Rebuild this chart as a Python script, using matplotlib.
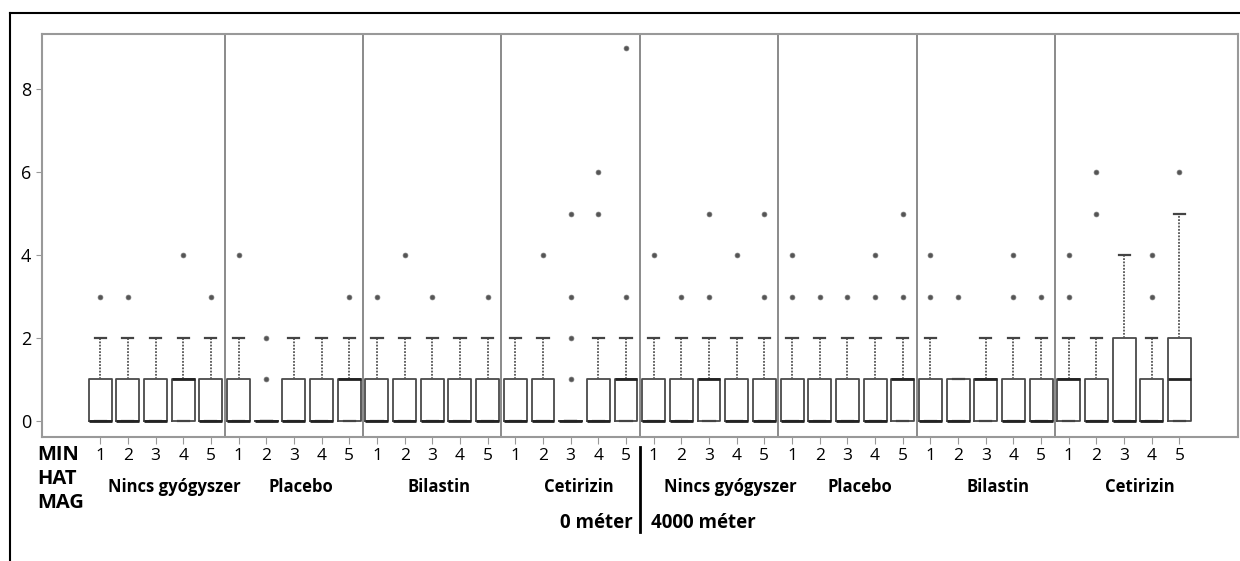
import numpy as np
import matplotlib.pyplot as plt
from matplotlib.lines import Line2D

plt.rcParams['font.family'] = ['Open Sans', 'DejaVu Sans']

# groups (treatment x altitude), 5 MIN subgroups each
groups = ["Nincs gyógyszer", "Placebo", "Bilastin", "Cetirizin",
          "Nincs gyógyszer", "Placebo", "Bilastin", "Cetirizin"]
altitudes = ["0 méter", "4000 méter"]
subgroups = ["1", "2", "3", "4", "5"]

# box stats per box, 40 boxes
q1 = [0] * 40
q3 = [1, 1, 1, 1, 1,   1, 0, 1, 1, 1,   1, 1, 1, 1, 1,   1, 1, 0, 1, 1,
      1, 1, 1, 1, 1,   1, 1, 1, 1, 1,   1, 1, 1, 1, 1,   1, 1, 2, 1, 2]
med = [0, 0, 0, 1, 0,  0, 0, 0, 0, 1,   0, 0, 0, 0, 0,   0, 0, 0, 0, 1,
       0, 0, 1, 0, 0,  0, 0, 0, 0, 1,   0, 0, 1, 0, 0,   1, 0, 0, 0, 1]
whis_hi = [2, 2, 2, 2, 2,  2, 0, 2, 2, 2,  2, 2, 2, 2, 2,  2, 2, 0, 2, 2,
           2, 2, 2, 2, 2,  2, 2, 2, 2, 2,  2, 1, 2, 2, 2,  2, 2, 4, 2, 5]
outliers = [
    [3], [3], [], [4], [3],
    [4], [1, 2], [], [], [3],
    [3], [4], [3], [], [3],
    [], [4], [1, 2, 3, 5], [5, 6], [3, 9],
    [4], [3], [3, 5], [4], [3, 5],
    [3, 4], [3], [3], [3, 4], [3, 5],
    [3, 4], [3], [], [3, 4], [3],
    [3, 4], [5, 6], [], [3, 4], [6],
]

stats = []
for i in range(40):
    stats.append(dict(q1=q1[i], med=med[i], q3=q3[i], whislo=q1[i],
                      whishi=whis_hi[i], fliers=outliers[i]))

positions = np.arange(1, 41)

# where the group names sit (x in box units, as in the original layout)
label_x = [3.67, 8.26, 13.24, 18.29, 23.78, 28.47, 33.45, 38.58]

fig = plt.figure(figsize=(12.4, 5.61), dpi=100)
ax = fig.add_axes([0.034, 0.221, 0.964, 0.718])

edge = '#4a4a4a'
ax.bxp(stats, positions=positions, widths=0.83, showfliers=True,
       boxprops=dict(color=edge, linewidth=1.3),
       medianprops=dict(color='#222222', linewidth=2.0),
       whiskerprops=dict(color='#555555', linewidth=1.3, linestyle=(0, (1, 0.8))),
       capprops=dict(color='#444444', linewidth=1.6),
       capwidths=0.4,
       flierprops=dict(marker='o', markersize=3.5, markerfacecolor='#555555',
                       markeredgecolor='#777777', markeredgewidth=0.5))

# separators between groups
for k in range(1, 8):
    ax.axvline(5 * k + 0.5, color='#777777', linewidth=1.2)

ax.set_xlim(-1.1, 42.1)
ax.set_ylim(-0.39, 9.33)
ax.set_yticks([0, 2, 4, 6, 8])
ax.set_xticks(positions, labels=subgroups * 8)

for s in ax.spines.values():
    s.set_color('#999999')
    s.set_linewidth(1.5)

ax.tick_params(axis='y', length=4, color='#999999', labelsize=13, pad=4)
ax.tick_params(axis='x', direction='out', length=5, color='#999999',
               labelsize=12.5, pad=3)

xt = ax.get_xaxis_transform()
for name, lx in zip(groups, label_x):
    ax.text(lx, -0.124, name, transform=xt, ha='center', va='center',
            fontsize=12, fontweight='bold')

ax.text(20.24, -0.213, altitudes[0], transform=xt, ha='right', va='center',
        fontsize=13.5, fontweight='bold')
ax.text(20.89, -0.213, altitudes[1], transform=xt, ha='left', va='center',
        fontsize=13.5, fontweight='bold')
ax.plot([20.5, 20.5], [-0.025, -0.236], transform=xt, color='black',
        linewidth=2, clip_on=False)

for j, lab in enumerate(["MIN", "HAT", "MAG"]):
    fig.text(37 / 1240, (561 - 455 - 24 * j) / 561, lab, ha='left', va='center',
             fontsize=14.5, fontweight='bold')

# outer frame (top and left only)
fig.add_artist(Line2D([10 / 1240, 10 / 1240], [0, 1 - 13 / 561],
                      transform=fig.transFigure, color='black', linewidth=1.5))
fig.add_artist(Line2D([10 / 1240, 1], [1 - 13 / 561, 1 - 13 / 561],
                      transform=fig.transFigure, color='black', linewidth=1.5))

fig.savefig("out.png", dpi=100)
